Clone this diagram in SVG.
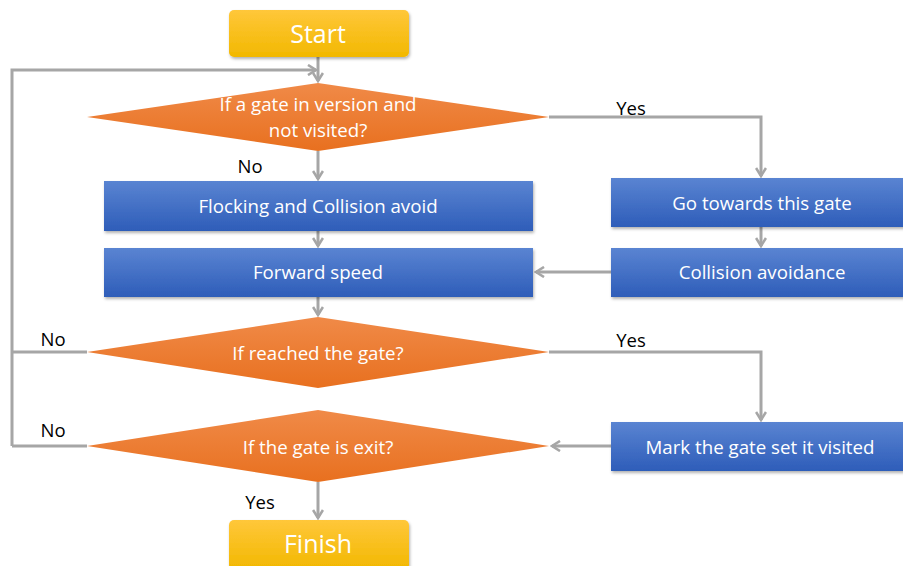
<svg xmlns="http://www.w3.org/2000/svg" width="903" height="566" viewBox="0 0 903 566">
<style>
.box{fill:url(#gBlue);}
.term{fill:url(#gYel);}
.dia{fill:url(#gOr);}
.t{font-family:"Open Sans","Noto Sans","Liberation Sans",sans-serif;font-size:18.7px;fill:#fff;text-anchor:middle;dominant-baseline:central;}
.tb{font-family:"Open Sans","Noto Sans","Liberation Sans",sans-serif;font-size:25px;fill:#fff;text-anchor:middle;dominant-baseline:central;}
.lab{font-family:"Open Sans","Noto Sans","Liberation Sans",sans-serif;font-size:18.5px;fill:#000;text-anchor:middle;dominant-baseline:central;}
.c{fill:none;stroke:#A6A6A6;stroke-width:3;}
</style>
<defs>
<linearGradient id="gBlue" x1="0" y1="0" x2="0" y2="1"><stop offset="0" stop-color="#5A84D2"/><stop offset="1" stop-color="#2E5DB9"/></linearGradient>
<linearGradient id="gYel" x1="0" y1="0" x2="0" y2="1"><stop offset="0" stop-color="#FFC73A"/><stop offset="1" stop-color="#F2B800"/></linearGradient>
<linearGradient id="gOr" x1="0" y1="0" x2="0" y2="1"><stop offset="0" stop-color="#F08A48"/><stop offset="1" stop-color="#E8701F"/></linearGradient>
<filter id="sh" x="-5%" y="-10%" width="110%" height="130%"><feDropShadow dx="1" dy="2" stdDeviation="1.5" flood-color="#000" flood-opacity="0.3"/></filter>
<marker id="ah" viewBox="0 0 12 12" refX="10" refY="6" markerWidth="12" markerHeight="12" markerUnits="userSpaceOnUse" orient="auto"><path d="M2,1 L10,6 L2,11" fill="none" stroke="#A6A6A6" stroke-width="2.6"/></marker>
</defs>
<g id="connectors">
<path class="c" d="M318,57 V81" marker-end="url(#ah)"/>
<path class="c" d="M12,446 V70 H316" marker-end="url(#ah)"/>
<path class="c" d="M549,117 H761 V176" marker-end="url(#ah)"/>
<path class="c" d="M318,151 V179" marker-end="url(#ah)"/>
<path class="c" d="M318,231 V246" marker-end="url(#ah)"/>
<path class="c" d="M761,227 V246" marker-end="url(#ah)"/>
<path class="c" d="M611,272 H536" marker-end="url(#ah)"/>
<path class="c" d="M318,297 V315" marker-end="url(#ah)"/>
<path class="c" d="M549,352 H761 V420" marker-end="url(#ah)"/>
<path class="c" d="M87,352 H12"/>
<path class="c" d="M87,446 H12"/>
<path class="c" d="M611,446 H552" marker-end="url(#ah)"/>
<path class="c" d="M318,482 V518" marker-end="url(#ah)"/>
</g>
<g id="start"><rect class="term" x="229" y="10" width="180" height="47" rx="5" filter="url(#sh)"/><text class="tb" x="318" y="33">Start</text></g>
<g id="d1"><polygon class="dia" points="318,83 549,117 318,151 87,117"/><text class="t" x="318" y="103">If a gate in version and</text><text class="t" x="318" y="129">not visited?</text></g>
<g id="flock"><rect class="box" x="104" y="181" width="429" height="50" filter="url(#sh)"/><text class="t" x="318" y="205">Flocking and Collision avoid</text></g>
<g id="forward"><rect class="box" x="104" y="248" width="429" height="49" filter="url(#sh)"/><text class="t" x="318" y="271">Forward speed</text></g>
<g id="go"><rect class="box" x="611" y="178" width="300" height="49" filter="url(#sh)"/><text class="t" x="762" y="202">Go towards this gate</text></g>
<g id="coll"><rect class="box" x="611" y="248" width="300" height="49" filter="url(#sh)"/><text class="t" x="762" y="271">Collision avoidance</text></g>
<g id="d2"><polygon class="dia" points="318,317 549,352 318,388 87,352"/><text class="t" x="318" y="352">If reached the gate?</text></g>
<g id="d3"><polygon class="dia" points="318,410 549,446 318,482 87,446"/><text class="t" x="318" y="446">If the gate is exit?</text></g>
<g id="mark"><rect class="box" x="611" y="422" width="300" height="49" filter="url(#sh)"/><text class="t" x="760" y="446">Mark the gate set it visited</text></g>
<g id="finish"><rect class="term" x="229" y="520" width="180" height="50" rx="5" filter="url(#sh)"/><text class="tb" x="318" y="543">Finish</text></g>
<g id="labels">
<text class="lab" x="631" y="107">Yes</text>
<text class="lab" x="250" y="165">No</text>
<text class="lab" x="53" y="338">No</text>
<text class="lab" x="631" y="339">Yes</text>
<text class="lab" x="53" y="429">No</text>
<text class="lab" x="260" y="501">Yes</text>
</g>
</svg>
